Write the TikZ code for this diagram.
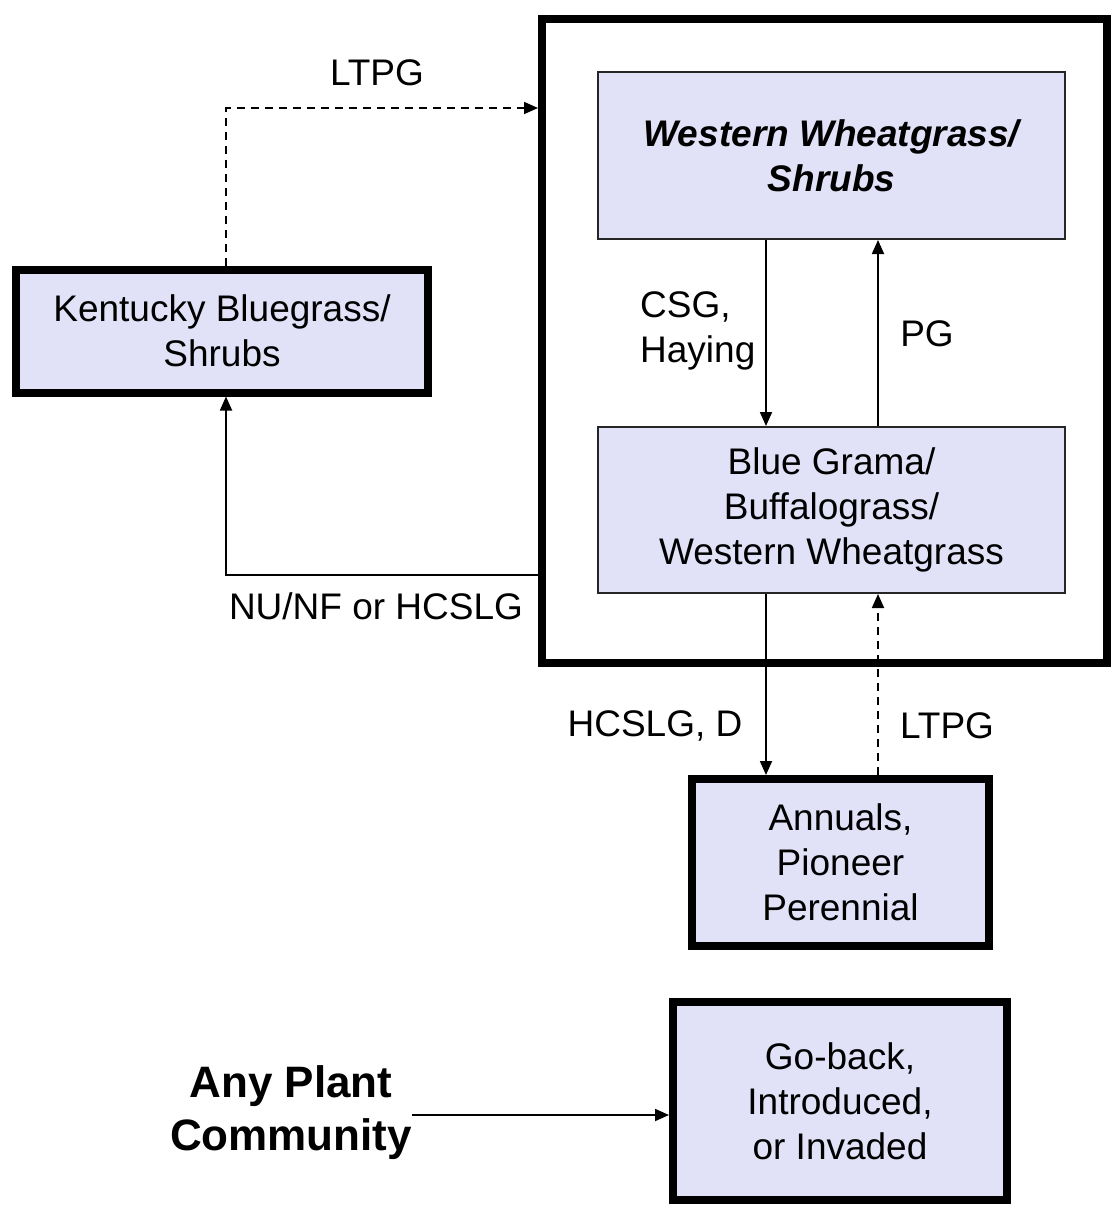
\documentclass[tikz,border=0pt]{standalone}
\usepackage{fontspec}
\setmainfont{Liberation Sans}
\usetikzlibrary{arrows.meta,calc}
\definecolor{boxfill}{RGB}{225,225,248}
\begin{document}
\begin{tikzpicture}[x=1pt,y=-1pt,
  txt/.style={font=\fontsize{37}{45}\selectfont},
  thinbox/.style={draw=black!85, line width=2pt, fill=boxfill, align=center, inner sep=0pt, txt},
  thickbox/.style={draw=black, line width=8pt, fill=boxfill, align=center, inner sep=0pt, txt},
  framebox/.style={draw=black, line width=8pt, inner sep=0pt},
  conn/.style={line width=1.8pt, -{Triangle[length=14pt,width=12pt]}},
  dashconn/.style={conn, dash pattern=on 8pt off 6pt},
  lbl/.style={inner sep=0pt, align=center, txt}
]
\useasboundingbox (0,0) rectangle (1111,1205);
\fill[white] (0,0) rectangle (1111,1205);

% frame
\node[framebox, minimum width=565pt, minimum height=644pt] (frame) at (824.5,341) {};

% boxes
\node[thickbox, minimum width=412pt, minimum height=123pt] (kb) at (222,331) {Kentucky Bluegrass/\\Shrubs};
\node[thinbox, minimum width=467pt, minimum height=167pt, font=\fontsize{37}{45}\selectfont\bfseries\itshape] (ww) at (831.5,155.5) {Western Wheatgrass/\\Shrubs};
\node[thinbox, minimum width=467pt, minimum height=166pt] (bg) at (831.5,510) {Blue Grama/\\Buffalograss/\\Western Wheatgrass};
\node[thickbox, minimum width=297pt, minimum height=167pt] (an) at (840.5,862.5) {Annuals,\\Pioneer\\Perennial};
\node[thickbox, minimum width=334pt, minimum height=198pt] (gb) at (840,1101) {Go-back,\\Introduced,\\or Invaded};

% labels
\node[lbl] (l1) at (377,73) {LTPG};
\node[lbl, align=left, anchor=west] (l2) at (640,331) {CSG,\\Haying};
\node[lbl] (l3) at (927,334) {PG};
\node[lbl] (l4) at (376,606) {NU/NF or HCSLG};
\node[lbl] (l5) at (655,726) {HCSLG, D};
\node[lbl] (l6) at (947,726) {LTPG};
\node[inner sep=0pt, align=center, font=\fontsize{44}{53}\selectfont\bfseries] (apc) at (291,1113) {Any Plant\\Community};

% helper coordinates
\coordinate (xa) at (766,0);
\coordinate (xb) at (878,0);
\coordinate (xk) at (226,0);
\coordinate (ytop) at (0,108);
\coordinate (ynu) at (0,575);
\coordinate (as) at (412,1115);

% connectors
\draw[conn] (ww.south -| xa) -- (bg.north -| xa);
\draw[conn] (bg.north -| xb) -- (ww.south -| xb);
\draw[conn] (bg.south -| xa) -- (an.north -| xa);
\draw[dashconn] (an.north -| xb) -- (bg.south -| xb);
\draw[dashconn] (kb.north -| xk) |- (frame.west |- ytop);
\draw[conn] (frame.west |- ynu) -| (kb.south -| xk);
\draw[conn] (as) -- (gb.west |- as);
\end{tikzpicture}
\end{document}
